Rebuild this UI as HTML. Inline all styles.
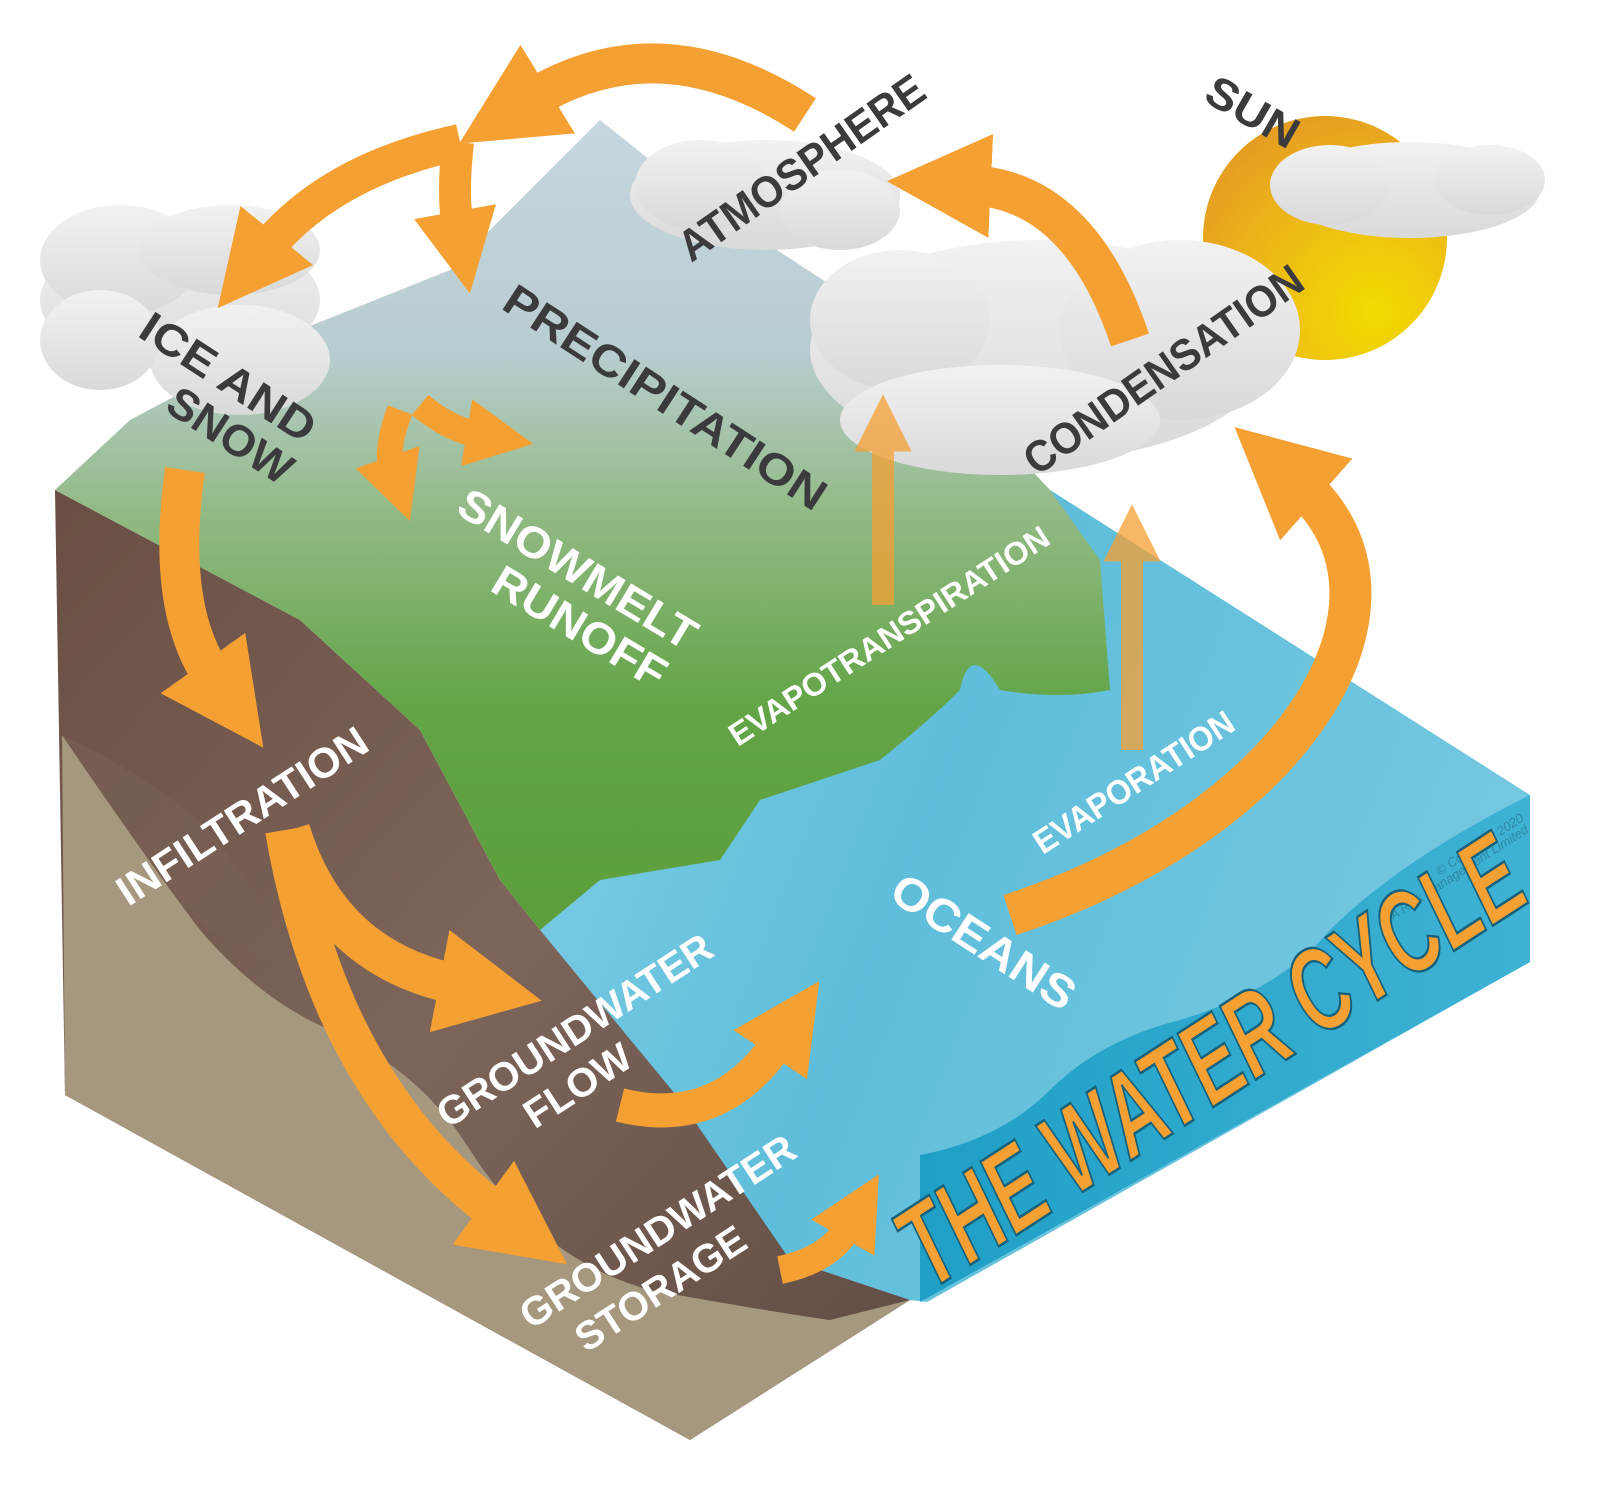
<!DOCTYPE html>
<html><head><meta charset="utf-8"><style>
html,body{margin:0;padding:0;background:#fff;}
svg{display:block;}
text{font-family:"Liberation Sans",sans-serif;font-weight:bold;}
</style></head><body>
<svg width="1603" height="1512" viewBox="0 0 1603 1512" xmlns="http://www.w3.org/2000/svg">
<defs>
<linearGradient id="land" x1="0" y1="120" x2="0" y2="900" gradientUnits="userSpaceOnUse">
<stop offset="0" stop-color="#c6d6df"/><stop offset="0.3" stop-color="#b8cdd0"/><stop offset="0.5" stop-color="#93ba86"/><stop offset="0.75" stop-color="#63a547"/><stop offset="1" stop-color="#5c9f3c"/>
</linearGradient>
<linearGradient id="soil" x1="0" y1="0" x2="1" y2="1">
<stop offset="0" stop-color="#6a4e43"/><stop offset="0.5" stop-color="#7d655a"/><stop offset="1" stop-color="#5f4b42"/>
</linearGradient>
<linearGradient id="ocean" x1="0" y1="0" x2="1" y2="0.3">
<stop offset="0" stop-color="#86d0e6"/><stop offset="0.5" stop-color="#5fbedb"/><stop offset="1" stop-color="#74c7e0"/>
</linearGradient>
<linearGradient id="face" x1="0" y1="0" x2="1" y2="0">
<stop offset="0" stop-color="#1f9fc6"/><stop offset="1" stop-color="#3fb2d4"/>
</linearGradient>
<radialGradient id="sun" cx="0.7" cy="0.8" r="0.9">
<stop offset="0" stop-color="#f2dc00"/><stop offset="0.6" stop-color="#edb518"/><stop offset="1" stop-color="#e39a24"/>
</radialGradient>
<linearGradient id="cloud" x1="0" y1="0" x2="0" y2="1">
<stop offset="0" stop-color="#f2f2f2"/><stop offset="1" stop-color="#d9d9d9"/>
</linearGradient>
<marker id="ah" viewBox="0 0 10 10" refX="2" refY="5" markerWidth="2.6" markerHeight="2.8" orient="auto" markerUnits="strokeWidth">
<path d="M0 0 L10 5 L0 10 Z" fill="#f5a033"/>
</marker>
</defs>

<!-- ocean (under everything) -->
<path d="M540 930 L700 600 L1050 490 L1530 795 L1530 962 L927 1302 L910 1300 L760 1300 L480 940 Z" fill="url(#ocean)"/>

<!-- soil left face -->
<path d="M55 490 L300 620 L420 730 L500 880 L540 930 L680 1100 L790 1260 L910 1300 L690 1440 L65 1095 Z" fill="url(#soil)"/>
<path d="M62 735 Q140 850 200 930 Q260 1000 330 1030 Q420 1070 470 1150 Q540 1260 650 1290 Q760 1310 830 1320 L910 1300 L690 1440 L65 1095 Z" fill="#a6977f"/>
<path d="M62 735 Q140 850 180 900 Q230 960 300 960 Q250 880 200 820 Q120 760 62 735Z" fill="#7a6155" opacity="0.6"/>

<!-- right face -->
<path d="M920 1155 Q1000 1140 1050 1090 Q1100 1040 1180 1020 Q1280 990 1330 930 Q1400 860 1530 795 L1530 962 L920 1302 Z" fill="url(#face)"/>

<!-- land / mountain -->
<path d="M55 490 L130 420 L300 330 L450 270 L600 120 L700 200 L900 330 L1050 490 L1100 560 L1110 690 Q1060 700 1000 690 Q970 640 960 690 Q930 720 880 760 L760 800 Q740 830 720 860 L600 880 L540 930 L500 880 L420 730 L300 620 Z" fill="url(#land)"/>

<!-- sun -->
<circle cx="1325" cy="238" r="122" fill="url(#sun)"/>

<!-- clouds -->
<g fill="url(#cloud)">
<ellipse cx="180" cy="300" rx="140" ry="70"/><ellipse cx="120" cy="260" rx="80" ry="55"/><ellipse cx="230" cy="250" rx="90" ry="45"/><ellipse cx="240" cy="360" rx="90" ry="55"/><ellipse cx="100" cy="340" rx="60" ry="50"/>
<ellipse cx="765" cy="195" rx="135" ry="55"/><ellipse cx="700" cy="185" rx="65" ry="45"/><ellipse cx="840" cy="210" rx="60" ry="40"/>
<ellipse cx="1040" cy="350" rx="230" ry="110"/><ellipse cx="1180" cy="330" rx="120" ry="90"/><ellipse cx="900" cy="320" rx="90" ry="70"/><ellipse cx="1000" cy="420" rx="160" ry="55"/>
<ellipse cx="1410" cy="190" rx="130" ry="48"/><ellipse cx="1330" cy="185" rx="60" ry="40"/><ellipse cx="1490" cy="180" rx="55" ry="35"/>
</g>

<!-- arrows -->
<g fill="none" stroke="#f5a033" stroke-linecap="butt" marker-end="url(#ah)">
<path d="M805 115 Q660 20 530 100" stroke-width="40"/>
<path d="M460 142 Q330 170 265 250" stroke-width="36"/>
<path d="M458 142 Q452 195 458 228" stroke-width="32"/>
<path d="M1130 340 Q1080 190 970 185" stroke-width="40"/>
<path d="M1010 915 C1300 820 1430 600 1300 485" stroke-width="42"/>
<path d="M185 470 Q165 610 215 680" stroke-width="40"/>
<path d="M400 410 Q385 450 392 470" stroke-width="26"/>
<path d="M420 405 Q450 430 480 435" stroke-width="26"/>
<path d="M290 830 Q330 960 460 985" stroke-width="40"/>
<path d="M285 830 Q330 1090 500 1215" stroke-width="40"/>
<path d="M620 1105 Q720 1130 780 1040" stroke-width="34"/>
<path d="M780 1270 Q830 1260 850 1225" stroke-width="28"/>
</g>
<g fill="none" stroke="#f5a033" stroke-width="22" opacity="0.75" marker-end="url(#ah)">
<path d="M883 605 L883 440"/>
<path d="M1132 750 L1132 550"/>
</g>

<!-- dark labels -->
<g fill="#3b3b3d" font-size="44" text-anchor="middle">
<text transform="translate(1245,125) rotate(30)" textLength="100" lengthAdjust="spacingAndGlyphs">SUN</text>
<text transform="translate(810,180) rotate(-35)" textLength="290" lengthAdjust="spacingAndGlyphs">ATMOSPHERE</text>
<text transform="translate(220,390) rotate(33)" textLength="200" lengthAdjust="spacingAndGlyphs">ICE AND</text>
<text transform="translate(222,448) rotate(33)" textLength="140" lengthAdjust="spacingAndGlyphs">SNOW</text>
<text transform="translate(657,410) rotate(33)" textLength="375" lengthAdjust="spacingAndGlyphs">PRECIPITATION</text>
<text transform="translate(1172,382) rotate(-35)" textLength="330" lengthAdjust="spacingAndGlyphs">CONDENSATION</text>
</g>
<!-- white labels -->
<g fill="#ffffff" text-anchor="middle">
<text font-size="44" transform="translate(570,582) rotate(31)" textLength="270" lengthAdjust="spacingAndGlyphs">SNOWMELT</text>
<text font-size="44" transform="translate(572,640) rotate(31)" textLength="195" lengthAdjust="spacingAndGlyphs">RUNOFF</text>
<text font-size="32" transform="translate(895,645) rotate(-33)" textLength="375" lengthAdjust="spacingAndGlyphs">EVAPOTRANSPIRATION</text>
<text font-size="34" transform="translate(1140,792) rotate(-33)" textLength="232" lengthAdjust="spacingAndGlyphs">EVAPORATION</text>
<text font-size="42" transform="translate(250,828) rotate(-33)" textLength="290" lengthAdjust="spacingAndGlyphs">INFILTRATION</text>
<text font-size="46" transform="translate(975,955) rotate(33)" textLength="210" lengthAdjust="spacingAndGlyphs">OCEANS</text>
<text font-size="40" transform="translate(582,1042) rotate(-33)" textLength="320" lengthAdjust="spacingAndGlyphs">GROUNDWATER</text>
<text font-size="40" transform="translate(585,1097) rotate(-33)" textLength="120" lengthAdjust="spacingAndGlyphs">FLOW</text>
<text font-size="40" transform="translate(665,1243) rotate(-33)" textLength="320" lengthAdjust="spacingAndGlyphs">GROUNDWATER</text>
<text font-size="40" transform="translate(668,1300) rotate(-33)" textLength="195" lengthAdjust="spacingAndGlyphs">STORAGE</text>
</g>
<g fill="#2b7f9a" font-size="13" font-style="italic" text-anchor="middle" opacity="0.8">
<text transform="translate(1482,848) rotate(-33)" style="font-weight:normal">© Copyright 2020</text>
<text transform="translate(1455,880) rotate(-33)" style="font-weight:normal">JBA Risk Management Limited</text>
</g>
<text transform="translate(1232,1095) rotate(-33)" font-size="118" font-style="italic" fill="#f5a033" stroke="#15607a" stroke-width="2.5" text-anchor="middle" textLength="720" lengthAdjust="spacingAndGlyphs">THE WATER CYCLE</text>
</svg>
</body></html>
